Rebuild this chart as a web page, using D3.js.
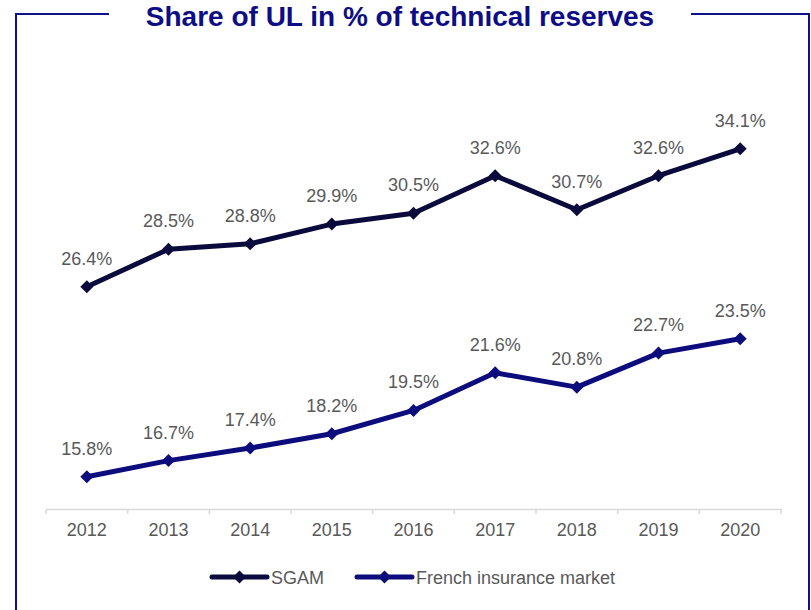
<!DOCTYPE html>
<html>
<head>
<meta charset="utf-8">
<script src="https://cdn.jsdelivr.net/npm/d3@7"></script>
<style>
  html, body { margin: 0; padding: 0; background: #fff; }
  svg { display: block; font-family: Arial, "Liberation Sans", sans-serif; }
</style>
</head>
<body>
<div id="chart"></div>
<script>
const years = ['2012', '2013', '2014', '2015', '2016', '2017', '2018', '2019', '2020'];
const sgam = [26.4, 28.5, 28.8, 29.9, 30.5, 32.6, 30.7, 32.6, 34.1];
const market = [15.8, 16.7, 17.4, 18.2, 19.5, 21.6, 20.8, 22.7, 23.5];
const seriesNames = ['SGAM', 'French insurance market'];
const titleText = 'Share of UL in % of technical reserves';

const width = 811;
const height = 610;
const frameColor = '#10108a';
const colors = ['#0a0a3c', '#0c0c7c'];
const textColor = '#595959';

const svg = d3.select('#chart')
    .append('svg')
    .attr('width', width)
    .attr('height', height);

// frame with a gap for the title
const frame = { left: 16, top: 14, right: 809, bottom: 611 };
svg.append('path')
    .attr('d', `M109,${frame.top} H${frame.left} V${frame.bottom} H${frame.right} V${frame.top} H691`)
    .attr('fill', 'none')
    .attr('stroke', frameColor)
    .attr('stroke-width', 2);

svg.append('text')
    .attr('x', 400)
    .attr('y', 26)
    .attr('text-anchor', 'middle')
    .attr('font-size', 28)
    .attr('font-weight', 'bold')
    .attr('fill', '#0d0d85')
    .text(titleText);

const x = d3.scaleBand()
    .domain(years)
    .range([46, 781]);

const y = d3.scaleLinear()
    .domain([14, 36])
    .range([509, 114.8]);

const axisG = svg.append('g')
    .attr('transform', 'translate(0,509)')
    .call(d3.axisBottom(x).tickSize(0).tickPadding(14));
axisG.select('.domain').attr('stroke', '#d9d9d9').attr('stroke-width', 1.5);
axisG.selectAll('text')
    .attr('font-size', 18)
    .attr('font-family', 'Arial, "Liberation Sans", sans-serif')
    .attr('fill', textColor);

// category separators
axisG.selectAll('.sep')
    .data(years.concat(['end']))
    .enter()
    .append('line')
    .attr('x1', (d, i) => i < years.length ? x(d) : x.range()[1])
    .attr('x2', (d, i) => i < years.length ? x(d) : x.range()[1])
    .attr('y1', 0)
    .attr('y2', 5)
    .attr('stroke', '#d9d9d9')
    .attr('stroke-width', 1.5);

const cx = d => x(d) + x.bandwidth() / 2;
const line = d3.line()
    .x((d, i) => cx(years[i]))
    .y(d => y(d));

// square diamond marker, 13px across
const diamond = 'M0,-6.5L6.5,0L0,6.5L-6.5,0Z';

[sgam, market].forEach((values, s) => {
    const g = svg.append('g');
    g.append('path')
        .datum(values)
        .attr('d', line)
        .attr('fill', 'none')
        .attr('stroke', colors[s])
        .attr('stroke-width', 5)
        .attr('stroke-linejoin', 'round');

    g.selectAll('.marker')
        .data(values)
        .enter()
        .append('path')
        .attr('d', diamond)
        .attr('transform', (d, i) => `translate(${cx(years[i])},${y(d)})`)
        .attr('fill', colors[s]);

    g.selectAll('.label')
        .data(values)
        .enter()
        .append('text')
        .attr('x', (d, i) => cx(years[i]))
        .attr('y', d => y(d) - 22)
        .attr('text-anchor', 'middle')
        .attr('font-size', 18)
        .attr('fill', textColor)
        .text(d => d.toFixed(1) + '%');
});

// legend
const legendItems = [
    { name: seriesNames[0], x: 212, color: colors[0] },
    { name: seriesNames[1], x: 357, color: colors[1] }
];
const legendY = 577;
const legend = svg.selectAll('.legend')
    .data(legendItems)
    .enter()
    .append('g')
    .attr('transform', d => `translate(${d.x},${legendY})`);

legend.append('line')
    .attr('x1', 0)
    .attr('x2', 55)
    .attr('stroke', d => d.color)
    .attr('stroke-width', 5)
    .attr('stroke-linecap', 'round');

legend.append('path')
    .attr('d', diamond)
    .attr('transform', 'translate(27.5,0)')
    .attr('fill', d => d.color);

legend.append('text')
    .attr('x', 59)
    .attr('y', 6.5)
    .attr('font-size', 18)
    .attr('fill', textColor)
    .text(d => d.name);
</script>
</body>
</html>
